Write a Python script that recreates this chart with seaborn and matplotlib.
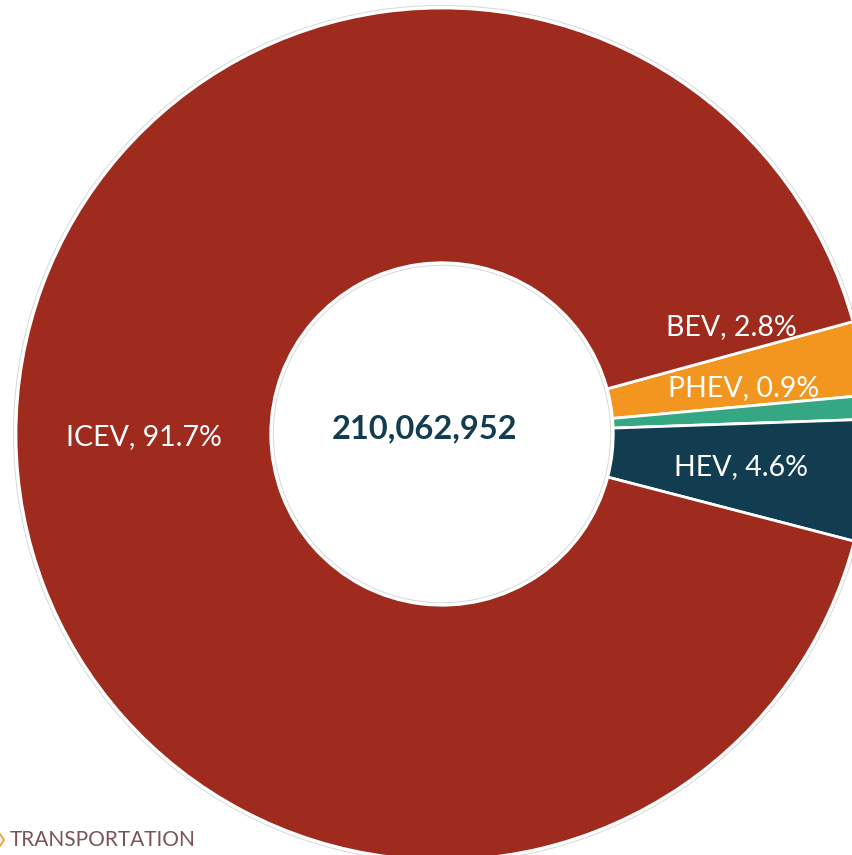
import numpy as np
import matplotlib
matplotlib.use("Agg")
import matplotlib.pyplot as plt
from matplotlib.lines import Line2D
import seaborn as sns

categories = ["BEV", "PHEV", "HEV", "ICEV"]
shares = [2.8, 0.9, 4.6, 91.7]
total_label = "210,062,952"
footer = "TRANSPORTATION"

colors = ["#f2961f", "#35a883", "#123d50", "#9e2b1d"]

sns.set_theme(style="white")
plt.rcParams["font.family"] = ["Lato", "DejaVu Sans"]

W, H = 853, 855
fig = plt.figure(figsize=(W / 100, H / 100), dpi=100)
ax = fig.add_axes([0, 0, 1, 1])

R = 426.0
cx, cy = 442.0, 434.0

wedges, _ = ax.pie(shares, colors=colors, startangle=15.3, counterclock=False,
                   radius=1.0, wedgeprops=dict(width=0.598, edgecolor="white", linewidth=2),
                   labels=None)
ax.set_xlim(-cx / R, (W - cx) / R)
ax.set_ylim(-(H - cy) / R, cy / R)
ax.set_aspect("auto")
ax.axis("off")

# thin grey outlines around the ring
for r in (1.006, 0.396):
    ax.add_patch(plt.Circle((0, 0), r, fill=False, edgecolor="#d8d8d8", linewidth=0.7))

label_shift = [10.0, 5.0, 0.0, 0.3]
label_r = [0.725, 0.715, 0.705, 0.70]
for w, cat, s, sh, lr in zip(wedges, categories, shares, label_shift, label_r):
    mid = np.deg2rad((w.theta1 + w.theta2) / 2 + sh)
    ax.text(lr * np.cos(mid), lr * np.sin(mid), f"{cat}, {s}%", color="white",
            fontsize=20.5, ha="center", va="center")

ax.text(-0.042, 0.012, total_label, color="#123d50", fontsize=23.5, fontweight="bold",
        ha="center", va="center")

fig.text(10 / W, 1 - 840 / H, footer, color="#7a5556", fontsize=15, ha="left", va="center")
# small cut-off orange icon at the left edge
fig.add_artist(Line2D([0 / W, 4 / W, 0 / W],
                      [1 - 834 / H, 1 - 840 / H, 1 - 846 / H],
                      transform=fig.transFigure, color="#f2961f", linewidth=1.2))

fig.savefig("out.png", dpi=100)
